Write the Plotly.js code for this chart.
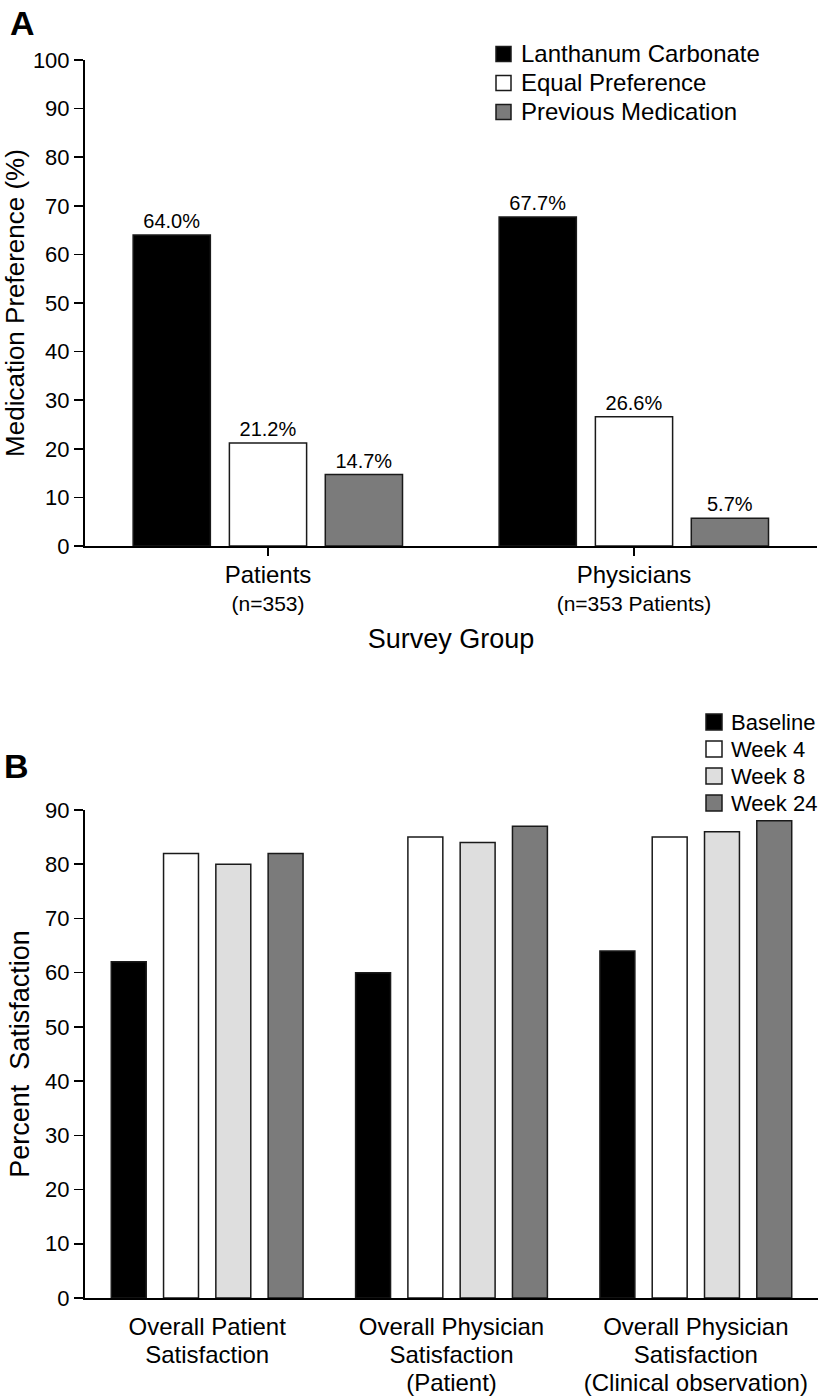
<!DOCTYPE html>
<html>
<head>
<meta charset="utf-8">
<script src="https://cdn.plot.ly/plotly-3.0.1.min.js"></script>
<style>html,body{margin:0;padding:0;background:#fff;}#chart{width:819px;height:1397px;}</style>
</head>
<body>
<div id="chart"></div>
<script>
// ---- Panel A data ----
const groupsA = ['Patients', 'Physicians'];
const groupNotesA = ['(n=353)', '(n=353 Patients)'];
const seriesNamesA = ['Lanthanum Carbonate', 'Equal Preference', 'Previous Medication'];
const lanthanumCarbonate = [64.0, 67.7];
const equalPreference = [21.2, 26.6];
const previousMedication = [14.7, 5.7];
const yTicksA = [0, 10, 20, 30, 40, 50, 60, 70, 80, 90, 100];

// ---- Panel B data ----
const groupsB = ['Overall Patient<br>Satisfaction',
                 'Overall Physician<br>Satisfaction<br>(Patient)',
                 'Overall Physician<br>Satisfaction<br>(Clinical observation)'];
const seriesNamesB = ['Baseline', 'Week 4', 'Week 8', 'Week 24'];
const baseline = [62, 60, 64];
const week4 = [82, 85, 85];
const week8 = [80, 84, 86];
const week24 = [82, 87, 88];
const yTicksB = [0, 10, 20, 30, 40, 50, 60, 70, 80, 90];

const FONT = 'Liberation Sans, Arial, Helvetica, sans-serif';
const W = 819, H = 1397;
const px = v => v / W, py = v => 1 - v / H;
const OUTLINE = '#1a1a1a';

const valuesA = [lanthanumCarbonate, equalPreference, previousMedication];
const colorsA = ['#000000', '#ffffff', '#7b7b7b'];
const widthA = 0.211, centersA = [-0.263, 0, 0.262];

const traces = [];
valuesA.forEach((vals, i) => {
  traces.push({
    type: 'bar', x: groupsA, y: vals, name: seriesNamesA[i],
    xaxis: 'x', yaxis: 'y',
    width: widthA, offset: centersA[i] - widthA / 2,
    marker: {color: colorsA[i], line: {color: OUTLINE, width: 1.5}},
    text: vals.map(v => v.toFixed(1) + '%'), textposition: 'outside',
    textfont: {family: FONT, size: 20, color: '#000'},
    cliponaxis: false, hoverinfo: 'skip'
  });
});

const valuesB = [baseline, week4, week8, week24];
const colorsB = ['#000000', '#ffffff', '#dedede', '#7b7b7b'];
const widthB = 0.143, centersB = [-0.321, -0.107, 0.107, 0.321];
valuesB.forEach((vals, i) => {
  traces.push({
    type: 'bar', x: groupsB, y: vals, name: seriesNamesB[i],
    xaxis: 'x2', yaxis: 'y2',
    width: widthB, offset: centersB[i] - widthB / 2,
    marker: {color: colorsB[i], line: {color: OUTLINE, width: 1.5}},
    cliponaxis: false, hoverinfo: 'skip'
  });
});

// Legends drawn as swatches + labels (tighter row spacing than Plotly's legend allows)
const shapes = [], annotations = [];
function addLegend(names, colors, left, rowCenters, sq, textLeft, fontSize) {
  names.forEach((n, i) => {
    const c = rowCenters[i];
    shapes.push({type: 'rect', xref: 'paper', yref: 'paper',
      x0: px(left), x1: px(left + sq), y0: py(c + sq / 2), y1: py(c - sq / 2),
      fillcolor: colors[i], line: {color: OUTLINE, width: 1.5}});
    annotations.push({text: n, xref: 'paper', yref: 'paper', x: px(textLeft), y: py(c),
      xanchor: 'left', yanchor: 'middle', showarrow: false,
      font: {size: fontSize, family: FONT, color: '#000'}});
  });
}
addLegend(seriesNamesA, colorsA, 496, [54, 83, 112], 15, 519, 24);
addLegend(seriesNamesB, colorsB, 706, [722, 749, 776, 803], 16, 729, 22);

annotations.push(
  {text: '<b>A</b>', xref: 'paper', yref: 'paper', x: px(8), y: py(2), xanchor: 'left', yanchor: 'top',
   showarrow: false, font: {size: 34, family: FONT}},
  {text: '<b>B</b>', xref: 'paper', yref: 'paper', x: px(2), y: py(745), xanchor: 'left', yanchor: 'top',
   showarrow: false, font: {size: 34, family: FONT}}
);

const wrapLines = (s, size) => s.split('<br>').map(l => '<span style="font-size:' + size + 'px">' + l + '</span>').join('<br>');

const layout = {
  width: W, height: H,
  margin: {l: 0, r: 0, t: 0, b: 0, autoexpand: false},
  paper_bgcolor: '#fff', plot_bgcolor: 'rgba(0,0,0,0)',
  font: {family: FONT, color: '#000', size: 20},
  barmode: 'group',
  showlegend: false,
  xaxis: {
    domain: [px(85), px(817)], anchor: 'y', type: 'category',
    range: [-0.5, 1.5], showline: true, linecolor: '#000', linewidth: 2,
    ticks: 'outside', ticklen: 8, tickwidth: 1.5, tickcolor: '#000',
    tickvals: groupsA,
    ticktext: groupsA.map((g, i) => '<span style="font-size:24px">' + g + '</span><br>' + groupNotesA[i]),
    tickfont: {size: 21}, ticklabelstandoff: 2,
    showgrid: false, zeroline: false, fixedrange: true,
    title: {text: 'Survey Group', font: {size: 27}, standoff: 16}
  },
  yaxis: {
    domain: [py(546), py(60)], anchor: 'x', range: [0, 100],
    showline: true, linecolor: '#000', linewidth: 2,
    ticks: 'outside', ticklen: 9, tickwidth: 1.5, tickcolor: '#000',
    tickvals: yTicksA, tickfont: {size: 22},
    showgrid: false, zeroline: false, fixedrange: true,
    title: {text: 'Medication Preference (%)', font: {size: 26}, standoff: 8}
  },
  xaxis2: {
    domain: [px(85), px(818)], anchor: 'y2', type: 'category',
    range: [-0.5, 2.5], showline: true, linecolor: '#000', linewidth: 2,
    ticks: '', tickfont: {size: 21.5}, ticklabelstandoff: 9,
    tickvals: groupsB, ticktext: groupsB.map(g => wrapLines(g, 24)),
    showgrid: false, zeroline: false, fixedrange: true
  },
  yaxis2: {
    domain: [py(1298), py(810)], anchor: 'x2', range: [0, 90],
    showline: true, linecolor: '#000', linewidth: 2,
    ticks: 'outside', ticklen: 9, tickwidth: 1.5, tickcolor: '#000',
    tickvals: yTicksB, tickfont: {size: 22},
    showgrid: false, zeroline: false, fixedrange: true,
    title: {text: 'Percent\u00a0 Satisfaction', font: {size: 27}, standoff: 8}
  },
  shapes: shapes,
  annotations: annotations
};

Plotly.newPlot('chart', traces, layout, {displayModeBar: false, staticPlot: true});
</script>
</body>
</html>
